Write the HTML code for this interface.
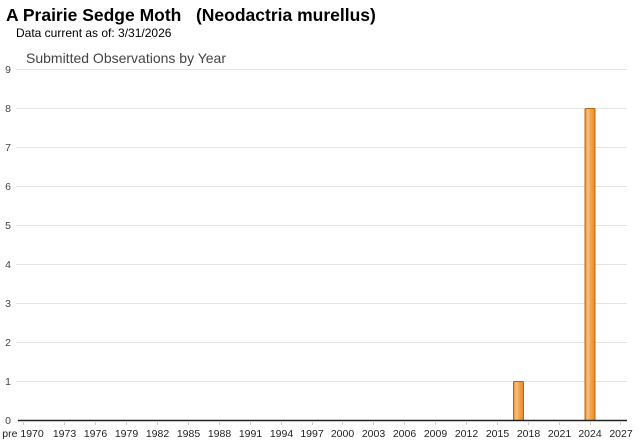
<!DOCTYPE html>
<html>
<head>
<meta charset="utf-8">
<style>
  html, body { margin:0; padding:0; background:#fff; }
  body { width:640px; height:442px; overflow:hidden; position:relative; font-family:"Liberation Sans", Arial, sans-serif; }
  svg { position:absolute; left:0; top:0; }
</style>
</head>
<body>
<svg width="640" height="442" viewBox="0 0 640 442" xmlns="http://www.w3.org/2000/svg">
  <defs>
    <linearGradient id="bar" x1="0" x2="1" y1="0" y2="0">
      <stop offset="0" stop-color="#e8912f"/>
      <stop offset="0.3" stop-color="#f8c27e"/>
      <stop offset="0.55" stop-color="#f2a552"/>
      <stop offset="1" stop-color="#e48a2a"/>
    </linearGradient>
  </defs>
  <text x="6" y="21" font-family="Liberation Sans, Arial, sans-serif" font-size="17.5" font-weight="bold" fill="#000" xml:space="preserve" style="white-space:pre">A Prairie Sedge Moth   (Neodactria murellus)</text>
  <text x="16" y="37" font-family="Liberation Sans, Arial, sans-serif" font-size="12" fill="#000">Data current as of: 3/31/2026</text>
  <text x="26" y="63" font-family="Liberation Sans, Arial, sans-serif" font-size="14" fill="#444">Submitted Observations by Year</text>

  <g stroke="#e4e4e4" stroke-width="1">
    <line x1="16" x2="627" y1="69.5" y2="69.5"/>
    <line x1="16" x2="627" y1="108.5" y2="108.5"/>
    <line x1="16" x2="627" y1="147.5" y2="147.5"/>
    <line x1="16" x2="627" y1="186.5" y2="186.5"/>
    <line x1="16" x2="627" y1="225.5" y2="225.5"/>
    <line x1="16" x2="627" y1="264.5" y2="264.5"/>
    <line x1="16" x2="627" y1="303.5" y2="303.5"/>
    <line x1="16" x2="627" y1="342.5" y2="342.5"/>
    <line x1="16" x2="627" y1="381.5" y2="381.5"/>
  </g>

  <g font-family="Liberation Sans, Arial, sans-serif" font-size="10.5" fill="#444" text-anchor="end">
    <text x="11" y="73">9</text>
    <text x="11" y="112">8</text>
    <text x="11" y="151">7</text>
    <text x="11" y="190">6</text>
    <text x="11" y="229">5</text>
    <text x="11" y="268">4</text>
    <text x="11" y="307">3</text>
    <text x="11" y="346">2</text>
    <text x="11" y="385">1</text>
    <text x="11" y="424">0</text>
  </g>

  <!-- bars -->
  <rect x="513.5" y="381.5" width="10" height="39" rx="1" fill="url(#bar)" stroke="#b8650f" stroke-width="1"/>
  <rect x="585" y="108.5" width="10" height="312" rx="1" fill="url(#bar)" stroke="#b8650f" stroke-width="1"/>

  <!-- axis -->
  <line x1="18" x2="627" y1="420.5" y2="420.5" stroke="#222" stroke-width="1.5"/>
  <g stroke="#ccc" stroke-width="1">
    <line x1="23.5" x2="23.5" y1="421" y2="425"/>
    <line x1="64.5" x2="64.5" y1="421" y2="425"/>
    <line x1="95.5" x2="95.5" y1="421" y2="425"/>
    <line x1="126.5" x2="126.5" y1="421" y2="425"/>
    <line x1="157.5" x2="157.5" y1="421" y2="425"/>
    <line x1="188.5" x2="188.5" y1="421" y2="425"/>
    <line x1="219.5" x2="219.5" y1="421" y2="425"/>
    <line x1="250.5" x2="250.5" y1="421" y2="425"/>
    <line x1="281.5" x2="281.5" y1="421" y2="425"/>
    <line x1="312.5" x2="312.5" y1="421" y2="425"/>
    <line x1="342.5" x2="342.5" y1="421" y2="425"/>
    <line x1="373.5" x2="373.5" y1="421" y2="425"/>
    <line x1="404.5" x2="404.5" y1="421" y2="425"/>
    <line x1="435.5" x2="435.5" y1="421" y2="425"/>
    <line x1="466.5" x2="466.5" y1="421" y2="425"/>
    <line x1="497.5" x2="497.5" y1="421" y2="425"/>
    <line x1="528.5" x2="528.5" y1="421" y2="425"/>
    <line x1="559.5" x2="559.5" y1="421" y2="425"/>
    <line x1="590.5" x2="590.5" y1="421" y2="425"/>
    <line x1="620.5" x2="620.5" y1="421" y2="425"/>
  </g>

  <g font-family="Liberation Sans, Arial, sans-serif" font-size="10.5" fill="#222" text-anchor="middle">
    <text x="23" y="437">pre 1970</text>
    <text x="64.5" y="437">1973</text>
    <text x="95.5" y="437">1976</text>
    <text x="126.5" y="437">1979</text>
    <text x="157.5" y="437">1982</text>
    <text x="188.5" y="437">1985</text>
    <text x="219.5" y="437">1988</text>
    <text x="250.5" y="437">1991</text>
    <text x="281.5" y="437">1994</text>
    <text x="312" y="437">1997</text>
    <text x="342.5" y="437">2000</text>
    <text x="373.5" y="437">2003</text>
    <text x="404.5" y="437">2006</text>
    <text x="435.5" y="437">2009</text>
    <text x="466.5" y="437">2012</text>
    <text x="497.5" y="437">2015</text>
    <text x="528.5" y="437">2018</text>
    <text x="559.5" y="437">2021</text>
    <text x="590" y="437">2024</text>
    <text x="621" y="437">2027</text>
  </g>
</svg>
</body>
</html>
